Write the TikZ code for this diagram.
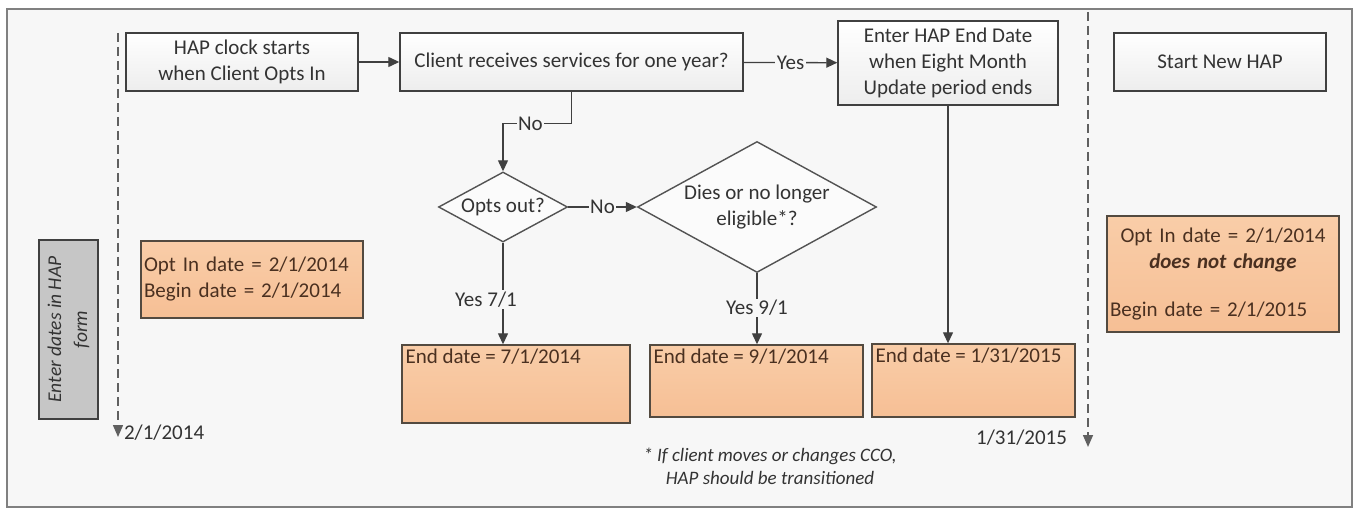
\documentclass[tikz,border=0pt]{standalone}
\usepackage{fontspec}
\setmainfont{Carlito}
\usetikzlibrary{arrows.meta,shapes.geometric}
\definecolor{bgcol}{HTML}{F7F7F7}
\definecolor{linecol}{HTML}{404040}
\definecolor{peach}{HTML}{F9CDA8}
\definecolor{peachdk}{HTML}{F6BF95}
\definecolor{txtcol}{HTML}{333333}
\definecolor{browntxt}{HTML}{4A3020}

\begin{document}
\begin{tikzpicture}[x=1pt,y=-1pt,
    every node/.style={font=\fontsize{21}{26}\selectfont, text=txtcol},
    graybox/.style={draw=linecol, line width=1.4pt, top color=white, bottom color=gray!14, align=center, inner sep=0pt},
    peachbox/.style={draw=linecol!85!brown, line width=1.4pt, top color=peach, bottom color=peachdk, inner sep=3pt, text=browntxt},
    peachtxt/.style={anchor=north west, text=browntxt, inner sep=4pt},
    decision/.style={diamond, aspect=1.83, draw=linecol!90, line width=1.4pt, fill=bgcol!50!white, align=center, inner sep=0pt},
    conn/.style={draw=linecol, line width=1.3pt, -{Triangle[length=11pt,width=10pt]}},
    lbl/.style={fill=bgcol, inner sep=1.5pt},
    timeline/.style={draw=gray!75!black, line width=1.5pt, dash pattern=on 9pt off 5pt, -{Triangle[length=12pt,width=10pt]}}]
    \useasboundingbox (0,0) rectangle (1356,510);
    \fill[bgcol] (7,9) rectangle (1352,507);
    \draw[gray, line width=2pt] (7,9) rectangle (1352,507);

    \node[graybox, minimum width=232, minimum height=58] (clock) at (242,62) {HAP clock starts\\when Client Opts In};
    \node[graybox, minimum width=343, minimum height=58] (client) at (571.5,62) {Client receives services for one year?};
    \node[graybox, minimum width=220, minimum height=84] (enddate) at (948,63) {Enter HAP End Date\\when Eight Month\\Update period ends};
    \node[graybox, minimum width=212, minimum height=58] (newhap) at (1220,62) {Start New HAP};

    \node[decision, minimum width=129, minimum height=70] (optsout) at (503,207) {Opts out?};
    \node[decision, minimum width=239, minimum height=131] (dies) at (757,207) {Dies or no longer\\eligible*?};

    \node[draw=linecol, line width=1.4pt, fill=gray!45, rotate=90, minimum width=179, minimum height=59, align=center, inner sep=0pt, font=\fontsize{19.5}{26}\selectfont\itshape] (form) at (68.5,329.5) {Enter dates in HAP\\form};
    \node[peachbox, minimum width=222, minimum height=77, text width=216, align=left] (optin) at (252,279.5) {Opt In date = 2/1/2014\\Begin date = 2/1/2014};
    \node[peachbox, minimum width=232, minimum height=116, text width=226, align=center] (newdates) at (1223,274) {Opt In date = 2/1/2014\\\textbf{\textit{does not change}}\\[22pt]\makebox[226pt][l]{Begin date = 2/1/2015}};

    \node[peachbox, minimum width=228, minimum height=78, label={[peachtxt]north west:End date = 7/1/2014}] (end1) at (516,384) {};
    \node[peachbox, minimum width=213, minimum height=72, label={[peachtxt]north west:End date = 9/1/2014}] (end2) at (756.5,381) {};
    \node[peachbox, minimum width=203, minimum height=73, label={[peachtxt]north west:End date = 1/31/2015}] (end3) at (973.5,380.5) {};

    \coordinate (starttop) at (118,33);
    \coordinate (startend) at (118,437);
    \coordinate (stoptop) at (1088,12);
    \coordinate (stopend) at (1088,447);
    \draw[timeline] (starttop) -- (startend) node[right, xshift=2, yshift=4]{2/1/2014};
    \draw[timeline] (stoptop) -- (stopend) node[left, xshift=-17, yshift=9]{1/31/2015};

    \draw[conn] (clock) -- (client);
    \draw[conn] (client) -- node[lbl]{Yes} (enddate);
    \draw[conn] (client.south) -- ++(0,32) -| node[lbl, pos=0.3]{No} (optsout.north);
    \draw[conn] (optsout) -- node[lbl]{No} (dies);
    \draw[conn] (optsout.south) -- node[lbl, pos=0.56, xshift=-17]{Yes 7/1} (optsout.south |- end1.north);
    \draw[conn] (dies.south) -- node[lbl, pos=0.49]{Yes 9/1} (dies.south |- end2.north);
    \draw[conn] (enddate.south) -- (enddate.south |- end3.north);

    \node[font=\fontsize{19}{23}\selectfont\itshape, align=center] (note) at (770,466) {* If client moves or changes CCO,\\HAP should be transitioned};
\end{tikzpicture}
\end{document}
